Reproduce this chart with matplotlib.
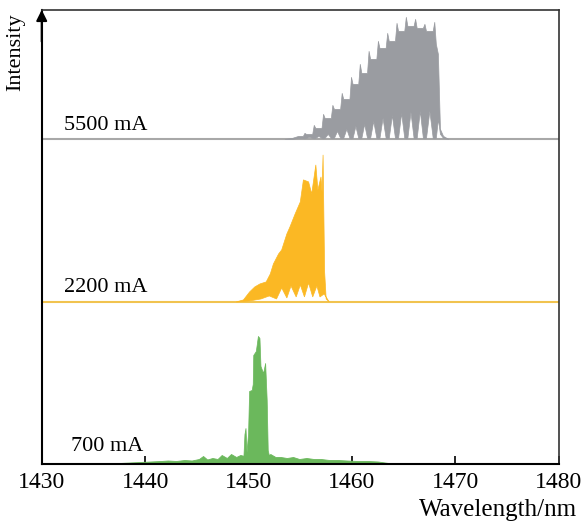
import numpy as np
import matplotlib
matplotlib.use("Agg")
import matplotlib.pyplot as plt

plt.rcParams['font.family'] = ['Liberation Serif', 'DejaVu Serif']

# baselines of the three stacked spectra (a.u.)
bases = [3.25, 1.62, 0.0]
labels = ["5500 mA", "2200 mA", "700 mA"]

# 5500 mA spectrum: longitudinal modes, peak tops, envelope between modes
gray_modes = [1455.4, 1456.3, 1457.2, 1458.1, 1459.0, 1459.9, 1460.75, 1461.6, 1462.5,
              1463.4, 1464.3, 1465.2, 1466.1, 1467.0, 1467.95]
gray_peak = [0.06, 0.14, 0.25, 0.34, 0.46, 0.62, 0.75, 0.88, 0.98, 1.06, 1.16, 1.22,
             1.20, 1.15, 1.17]
gray_valley = [0.03, 0.05, 0.11, 0.21, 0.30, 0.40, 0.55, 0.66, 0.80, 0.91, 0.98, 1.08,
               1.13, 1.11, 1.08, 0.95]
# lower envelope at the middle between neighbouring modes
gray_arch = [0.02, 0.03, 0.05, 0.08, 0.10, 0.13, 0.15, 0.18, 0.21, 0.24, 0.26,
             0.27, 0.28, 0.28]
gray_left_x = [1453.5, 1454.2, 1454.8]
gray_left_up = [0.0, 0.01, 0.03]
gray_left_lo = [0.0, 0.0, 0.01]
gray_right_x = [1468.3, 1468.5, 1468.8, 1469.3]
gray_right_up = [0.85, 0.10, 0.03, 0.0]
gray_right_lo = [0.20, 0.05, 0.01, 0.0]

# 2200 mA spectrum
or_up_x = [1448.8, 1449.5, 1450.1, 1450.6, 1451.1, 1451.7, 1452.1, 1452.4, 1452.9, 1453.2,
           1453.7, 1454.0, 1454.5, 1455.0, 1455.3, 1455.8, 1456.1, 1456.5, 1456.7, 1457.0,
           1457.1, 1457.2, 1457.35, 1457.5, 1457.8]
or_up_y = [0.0, 0.02, 0.10, 0.15, 0.18, 0.20, 0.28, 0.38, 0.48, 0.52, 0.68, 0.75, 0.88,
           1.00, 1.22, 1.20, 1.08, 1.37, 1.12, 1.25, 1.10, 1.47, 0.30, 0.03, 0.0]
or_lo_x = [1448.8, 1450.1, 1451.2, 1452.0, 1452.7, 1453.2, 1453.7, 1454.1, 1454.6, 1455.0,
           1455.4, 1455.8, 1456.2, 1456.6, 1456.9, 1457.3, 1457.8]
or_lo_y = [0.0, 0.01, 0.03, 0.06, 0.03, 0.14, 0.04, 0.16, 0.05, 0.17, 0.05, 0.19, 0.05,
           0.16, 0.05, 0.08, 0.0]

# 700 mA spectrum: main peak + noise floor
gr_x = [1449.5, 1449.6, 1449.7, 1449.8, 1449.95, 1450.05, 1450.3, 1450.4, 1450.45, 1450.7,
        1450.9, 1451.05, 1451.15, 1451.4, 1451.6, 1451.75, 1451.85, 1452.0]
gr_up = [0.08, 0.30, 0.36, 0.12, 0.31, 0.73, 0.74, 0.80, 1.09, 1.13, 1.28, 1.26, 0.98,
         0.91, 1.01, 0.64, 0.14, 0.07]
gn_x = [1436.5, 1437.5, 1438.5, 1439.5, 1440.5, 1441.5, 1442.2, 1443.0, 1443.8, 1444.5,
        1445.2, 1445.6, 1446.0, 1446.5, 1447.0, 1447.4, 1447.9, 1448.3, 1448.8, 1449.2,
        1449.6, 1450.5, 1451.5, 1452.1, 1452.6, 1453.1, 1453.7, 1454.3, 1454.9, 1455.6,
        1456.3, 1457.0, 1457.8, 1458.6, 1459.5, 1460.5, 1461.5, 1462.5, 1463.5, 1464.5]
gn_y = [0.0, 0.01, 0.015, 0.02, 0.025, 0.03, 0.035, 0.03, 0.04, 0.035, 0.05, 0.08, 0.045,
        0.06, 0.05, 0.09, 0.06, 0.10, 0.07, 0.09, 0.08, 0.05, 0.05, 0.10, 0.07, 0.07, 0.06,
        0.07, 0.05, 0.06, 0.05, 0.05, 0.04, 0.04, 0.035, 0.03, 0.03, 0.025, 0.01, 0.0]

xticks = [1430, 1440, 1450, 1460, 1470, 1480]

c_gray, c_orange, c_green = '#9a9ca1', '#fbb824', '#6bb85c'

# gray comb outline: narrow spike at each mode (up and down), arches between
w = 0.15
gx, gup, glo = list(gray_left_x), list(gray_left_up), list(gray_left_lo)
n = len(gray_modes)
for i, m in enumerate(gray_modes):
    gx += [m - w, m, m + w]
    gup += [gray_valley[i], gray_peak[i], gray_valley[i + 1]]
    glo += [0.01, 0.005, 0.01]
    if i < n - 1:
        gx.append((m + gray_modes[i + 1]) / 2)
        gup.append(gray_valley[i + 1])
        glo.append(gray_arch[i])
gx += gray_right_x
gup += gray_right_up
glo += gray_right_lo

fig = plt.figure(figsize=(5.81, 5.23), dpi=100)
ax = fig.add_axes([0.0718, 0.1128, 0.8902, 0.8684])

# baselines
ax.axhline(bases[0], color='#a8a8a8', lw=1.5, zorder=1)
ax.axhline(bases[1], color='#f1c34f', lw=1.5, zorder=1)

# gray
ax.fill_between(gx, bases[0] + np.array(glo), bases[0] + np.array(gup),
                color=c_gray, lw=0.5, zorder=2)

# orange
px = np.concatenate([or_up_x, or_lo_x[::-1]])
py = np.concatenate([or_up_y, or_lo_y[::-1]]) + bases[1]
ax.fill(px, py, color=c_orange, lw=0.5, zorder=2)

# green
ax.fill_between(gn_x, bases[2], bases[2] + np.array(gn_y), color=c_green, lw=0.6, zorder=2)
ax.fill_between(gr_x, bases[2] + 0.03, bases[2] + np.array(gr_up), color=c_green, lw=0.5, zorder=2)

# curve labels
ax.text(1432.15, 3.38, labels[0], fontsize=16, va='center', ha='left')
ax.text(1432.15, 1.76, labels[1], fontsize=16, va='center', ha='left')
ax.text(1432.8, 0.17, labels[2], fontsize=16, va='center', ha='left')

ax.set_xlim(1430, 1480)
ax.set_ylim(0, 4.54)
ax.set_xticks(xticks)
ax.set_yticks([])
ax.tick_params(axis='x', direction='in', length=6, width=1.2, labelsize=17, pad=6)
for s in ['left', 'bottom']:
    ax.spines[s].set_linewidth(1.5)
for s in ['top', 'right']:
    ax.spines[s].set_linewidth(1.2)
    ax.spines[s].set_color('#333333')

# arrow at top of y axis
ax.annotate('', xy=(0, 1.0), xytext=(0, 0.93), xycoords='axes fraction',
            arrowprops=dict(arrowstyle='-|>', color='black', lw=1.5, mutation_scale=16,
                            shrinkA=0, shrinkB=0))

fig.text(577 / 581, 1 - 510 / 523, "Wavelength/nm", fontsize=18, ha='right', va='center')
fig.text(16 / 581, 1 - 52 / 523, "Intensity", fontsize=16, rotation=90, ha='center', va='center')

fig.savefig("out.png", dpi=100)
